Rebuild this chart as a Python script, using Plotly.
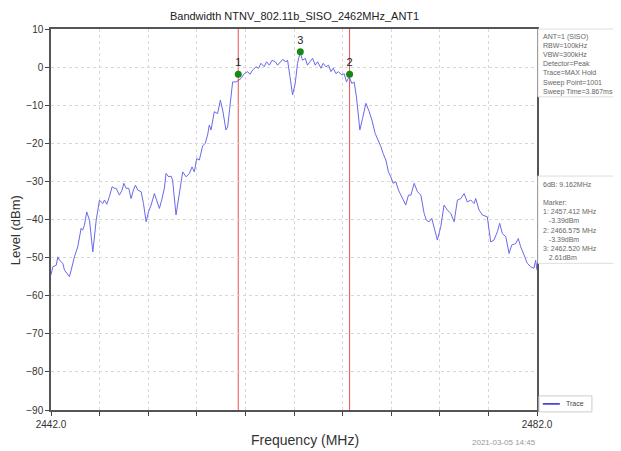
import plotly.graph_objects as go

# ---- data ----
freq_mhz = [2442.00, 2442.15, 2442.43, 2442.56, 2442.70, 2442.97, 2443.11, 2443.38, 2443.52, 2443.66,
            2443.93, 2444.20, 2444.48, 2444.61, 2444.75, 2444.94, 2445.17, 2445.44, 2445.72, 2445.99,
            2446.26, 2446.40, 2446.59, 2446.81, 2447.03, 2447.22, 2447.36, 2447.63, 2447.85, 2447.99,
            2448.18, 2448.40, 2448.59, 2448.78, 2448.95, 2449.14, 2449.42, 2449.61, 2449.83, 2450.02,
            2450.24, 2450.51, 2450.70, 2450.92, 2451.11, 2451.33, 2451.47, 2451.69, 2451.88, 2452.01,
            2452.29, 2452.51, 2452.84, 2453.12, 2453.39, 2453.61, 2453.80, 2453.99, 2454.21, 2454.48,
            2454.70, 2454.89, 2455.03, 2455.17, 2455.44, 2455.71, 2455.94, 2456.13, 2456.40, 2456.54,
            2456.95, 2457.23, 2457.44, 2457.64, 2457.91, 2458.18, 2458.38, 2458.59, 2458.87, 2459.09,
            2459.28, 2459.55, 2459.74, 2459.97, 2460.19, 2460.46, 2460.65, 2460.79, 2461.06, 2461.34,
            2461.47, 2461.67, 2461.88, 2462.10, 2462.29, 2462.50, 2462.70, 2462.93, 2463.11, 2463.31,
            2463.53, 2463.75, 2463.94, 2464.22, 2464.40, 2464.63, 2464.84, 2465.04, 2465.23, 2465.45,
            2465.66, 2465.94, 2466.13, 2466.32, 2466.54, 2466.76, 2466.95, 2467.14, 2467.42, 2467.64,
            2467.92, 2468.19, 2468.41, 2468.68, 2468.87, 2469.15, 2469.34, 2469.56, 2469.77, 2469.97,
            2470.16, 2470.38, 2470.60, 2470.88, 2471.20, 2471.42, 2471.62, 2471.89, 2472.16, 2472.44,
            2472.71, 2472.90, 2473.12, 2473.34, 2473.59, 2473.80, 2474.08, 2474.35, 2474.62, 2474.90,
            2475.18, 2475.45, 2475.73, 2476.00, 2476.27, 2476.55, 2476.82, 2476.96, 2477.23, 2477.50,
            2477.91, 2478.19, 2478.46, 2478.74, 2478.93, 2479.15, 2479.43, 2479.70, 2479.92, 2480.25,
            2480.46, 2480.66, 2480.93, 2481.20, 2481.48, 2481.75, 2481.89, 2482.00]
level_dbm = [-54.5, -52.4, -52.0, -49.8, -50.7, -51.5, -53.3, -54.6, -55.0, -53.3,
             -49.8, -47.2, -42.3, -42.8, -41.5, -38.0, -40.2, -48.5, -40.2, -34.9,
             -35.8, -34.9, -36.0, -34.0, -31.4, -31.8, -31.8, -33.6, -32.3, -30.5,
             -31.8, -31.8, -34.5, -32.3, -31.0, -32.3, -32.7, -35.8, -40.6, -38.0,
             -36.2, -33.2, -34.9, -37.1, -34.9, -31.8, -27.9, -28.8, -28.6, -29.7,
             -38.8, -34.0, -27.5, -28.8, -27.9, -26.2, -27.5, -24.0, -24.4, -20.7,
             -20.0, -17.8, -15.2, -16.5, -11.7, -12.2, -8.7, -11.3, -16.5, -15.7,
             -3.9, -3.9, -3.4, -3.0, -1.7, -1.2, -1.9, -0.8, 0.1, -0.3,
             1.0, 0.1, 1.4, 0.5, 1.8, 1.4, 0.5, 1.0, 2.0, 1.4,
             1.8, -2.5, -7.3, -4.3, 1.0, 3.8, 1.8, 2.3, 0.5, 1.4,
             2.3, 0.5, 1.4, -0.3, 1.0, 0.1, 0.5, -1.2, -0.3, -1.7,
             -1.2, -2.1, -1.7, -3.9, -2.5, -4.3, -3.9, -7.8, -16.5, -13.5,
             -9.5, -11.7, -13.9, -17.4, -18.7, -20.9, -22.7, -24.4, -27.5, -28.8,
             -30.5, -30.1, -32.3, -34.0, -36.2, -33.6, -33.6, -30.5, -32.7, -33.6,
             -38.4, -40.2, -40.6, -39.7, -42.8, -45.4, -41.9, -36.2, -37.5, -38.4,
             -40.6, -34.9, -34.5, -33.2, -35.4, -34.9, -35.8, -34.5, -37.5, -38.8,
             -39.3, -45.9, -45.4, -43.2, -41.0, -43.7, -44.5, -48.9, -46.7, -46.3,
             -45.0, -47.2, -49.3, -51.5, -52.4, -52.8, -50.7, -53.3]

marker_labels = ["1", "2", "3"]
marker_freq = [2457.412, 2466.575, 2462.520]
marker_level = [-1.9, -1.9, 4.0]
bandwidth_lines = [2457.412, 2466.575]

x_tickvals = [2442, 2446, 2450, 2454, 2458, 2462, 2466, 2470, 2474, 2478, 2482]
x_ticktext = ["2442.0", "", "", "", "", "", "", "", "", "", "2482.0"]
y_tickvals = [10, 0, -10, -20, -30, -40, -50, -60, -70, -80, -90]

title_text = "Bandwidth NTNV_802.11b_SISO_2462MHz_ANT1"
x_title = "Frequency (MHz)"
y_title = "Level (dBm)"
info_text = ("ANT=1 (SISO)<br>RBW=100kHz<br>VBW=300kHz<br>Detector=Peak<br>"
             "Trace=MAX Hold<br>Sweep Point=1001<br>Sweep Time=3.867ms")
marker_text = ("6dB: 9.162MHz<br> <br>Marker:<br>1: 2457.412 MHz<br>   -3.39dBm<br>"
               "2: 2466.575 MHz<br>   -3.39dBm<br>3: 2462.520 MHz<br>   2.61dBm")
legend_name = "Trace"
timestamp = "2021-03-05 14:45"

FONT = "Liberation Sans, Arial, sans-serif"
TRACE_COLOR = "rgb(105,105,235)"

fig = go.Figure()
fig.add_trace(go.Scatter(x=freq_mhz, y=level_dbm, mode="lines", name=legend_name,
                         line=dict(color=TRACE_COLOR, width=1), showlegend=False))
fig.add_trace(go.Scatter(x=marker_freq, y=marker_level, mode="markers+text",
                         text=marker_labels, textposition="top center",
                         textfont=dict(size=11, color="#222", family=FONT),
                         marker=dict(color="#148a14", size=7, symbol="circle"),
                         showlegend=False, cliponaxis=False))

for f in bandwidth_lines:
    fig.add_shape(type="line", xref="x", yref="paper", x0=f, x1=f, y0=0, y1=1,
                  line=dict(color="rgb(235,80,80)", width=1), layer="between")

# info boxes (right side)
fig.add_shape(type="rect", xref="paper", yref="paper", x0=1.002, x1=1.175, y0=0.822, y1=1.0,
              line=dict(color="#dddddd", width=1), fillcolor="white")
fig.add_shape(type="rect", xref="paper", yref="paper", x0=1.002, x1=1.175, y0=0.385, y1=0.614,
              line=dict(color="#dddddd", width=1), fillcolor="white")
fig.add_annotation(xref="paper", yref="paper", x=1.008, y=0.995, xanchor="left", yanchor="top",
                   text=info_text, showarrow=False, align="left",
                   font=dict(size=7, color="#666", family=FONT))
fig.add_annotation(xref="paper", yref="paper", x=1.008, y=0.607, xanchor="left", yanchor="top",
                   text=marker_text, showarrow=False, align="left",
                   font=dict(size=7, color="#666", family=FONT))

# manual legend box
fig.add_shape(type="rect", xref="paper", yref="paper", x0=1.004, x1=1.113, y0=-0.005, y1=0.037,
              line=dict(color="#cccccc", width=1), fillcolor="white")
fig.add_shape(type="line", xref="paper", yref="paper", x0=1.012, x1=1.047, y0=0.016, y1=0.016,
              line=dict(color="rgb(40,40,200)", width=1.5))
fig.add_annotation(xref="paper", yref="paper", x=1.056, y=0.016, xanchor="left", yanchor="middle",
                   text=legend_name, showarrow=False, font=dict(size=7, color="#444", family=FONT))

# axis titles and timestamp
fig.add_annotation(xref="paper", yref="paper", x=0.523, y=-0.079, xanchor="center", yanchor="middle",
                   text=x_title, showarrow=False, font=dict(size=14, color="#333", family=FONT))
fig.add_annotation(xref="paper", yref="paper", x=-0.074, y=0.472, xanchor="center", yanchor="middle",
                   text=y_title, textangle=-90, showarrow=False,
                   font=dict(size=13, color="#333", family=FONT))
fig.add_annotation(xref="paper", yref="paper", x=0.932, y=-0.084, xanchor="center", yanchor="middle",
                   text=timestamp, showarrow=False, font=dict(size=8, color="#999", family=FONT))

fig.update_layout(
    width=613, height=443,
    margin=dict(l=43, r=84, t=21, b=41, autoexpand=False),
    paper_bgcolor="white", plot_bgcolor="white",
    title=dict(text=title_text, x=0.4675, xanchor="center",
               y=0.982, yanchor="middle", font=dict(size=11, color="#222", family=FONT)),
    font=dict(family=FONT, size=10, color="#333"),
    showlegend=False,
)
fig.update_xaxes(range=[2442, 2482], tickvals=x_tickvals, ticktext=x_ticktext,
                 ticks="outside", ticklen=4, tickcolor="#444", automargin=False,
                 showgrid=True, gridcolor="#d8d8d8", griddash="dot", gridwidth=1,
                 showline=True, linecolor="#555", linewidth=1.5, mirror=True,
                 zeroline=False, tickfont=dict(size=10, color="#333"))
fig.update_yaxes(range=[-90, 10], tickvals=y_tickvals,
                 ticks="outside", ticklen=4, tickcolor="#444", automargin=False,
                 showgrid=True, gridcolor="#d8d8d8", griddash="dot", gridwidth=1,
                 showline=True, linecolor="#555", linewidth=1.5, mirror=True,
                 zeroline=False, tickfont=dict(size=10, color="#333"))

fig.write_html("out.html")
